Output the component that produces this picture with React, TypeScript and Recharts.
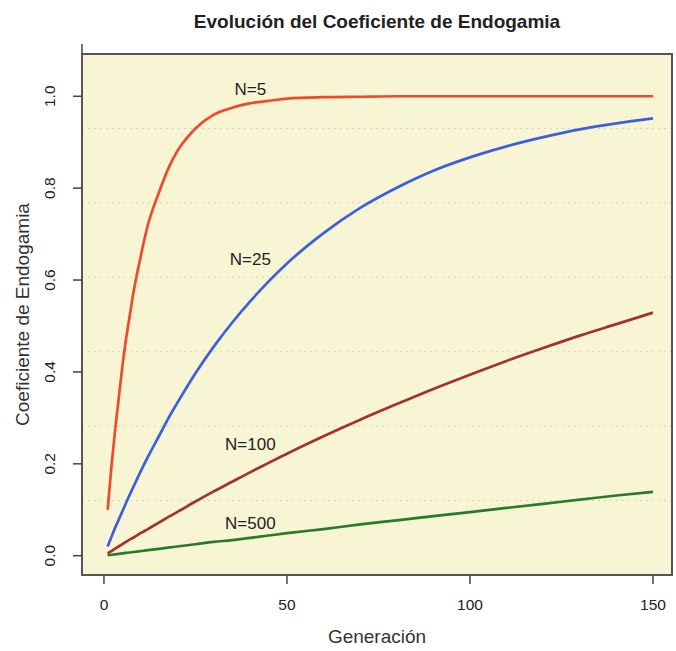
import {
  LineChart,
  Line,
  XAxis,
  YAxis,
  CartesianGrid,
  ReferenceArea,
  ReferenceDot,
  Label,
} from "recharts";

const FONT = "'Liberation Sans', Arial, Helvetica, sans-serif";

const generations = [1, 2, 3, 4, 5, 6, 7, 8, 10, 12, 15, 18, 20, 25, 30, 35, 40, 45, 50, 60, 70, 80, 90, 100, 110, 120, 130, 140, 150];
const n5 = [0.1, 0.19, 0.27, 0.34, 0.41, 0.47, 0.52, 0.57, 0.65, 0.72, 0.79, 0.85, 0.88, 0.93, 0.96, 0.975, 0.985, 0.99, 0.995, 0.998, 0.999, 1, 1, 1, 1, 1, 1, 1, 1];
const n25 = [0.02, 0.04, 0.06, 0.078, 0.096, 0.114, 0.132, 0.149, 0.183, 0.215, 0.26, 0.305, 0.332, 0.397, 0.455, 0.507, 0.554, 0.597, 0.636, 0.702, 0.757, 0.801, 0.838, 0.867, 0.891, 0.911, 0.928, 0.941, 0.952];
const n100 = [0.005, 0.01, 0.015, 0.02, 0.025, 0.03, 0.035, 0.039, 0.049, 0.058, 0.072, 0.086, 0.095, 0.118, 0.14, 0.161, 0.182, 0.202, 0.222, 0.26, 0.296, 0.33, 0.363, 0.394, 0.424, 0.452, 0.479, 0.504, 0.529];
const n500 = [0.001, 0.002, 0.003, 0.004, 0.005, 0.006, 0.007, 0.008, 0.01, 0.012, 0.015, 0.018, 0.02, 0.025, 0.03, 0.034, 0.039, 0.044, 0.049, 0.058, 0.068, 0.077, 0.086, 0.095, 0.104, 0.113, 0.122, 0.131, 0.139];

const xTicks = [0, 50, 100, 150];
const yTicks = [0, 0.2, 0.4, 0.6, 0.8, 1.0];
const gridLevels = [0.12, 0.282, 0.444, 0.606, 0.768, 0.93];
const xDomain: [number, number] = [-6, 155.2];
const yDomain: [number, number] = [-0.042, 1.092];

const series = [
  { key: "n5", name: "N=5", color: "#ef4a2b", labelGen: 40, labelVal: 1.015 },
  { key: "n25", name: "N=25", color: "#3b5fde", labelGen: 40, labelVal: 0.646 },
  { key: "n100", name: "N=100", color: "#a3322d", labelGen: 40, labelVal: 0.243 },
  { key: "n500", name: "N=500", color: "#2b7a2b", labelGen: 40, labelVal: 0.072 },
];

const data = generations.map((g, i) => ({
  gen: g,
  n5: n5[i],
  n25: n25[i],
  n100: n100[i],
  n500: n500[i],
}));

function XTick(props: any) {
  const { x, y, payload } = props;
  return (
    <text x={x} y={y + 24} textAnchor="middle" fontSize={15.5} fill="#222" fontFamily={FONT}>
      {payload.value}
    </text>
  );
}

function YTick(props: any) {
  const { x, y, payload } = props;
  const bx = x - 15.5;
  return (
    <text
      x={bx}
      y={y}
      transform={`rotate(-90, ${bx}, ${y})`}
      textAnchor="middle"
      fontSize={15.5}
      fill="#222"
      fontFamily={FONT}
    >
      {Number(payload.value).toFixed(1)}
    </text>
  );
}

const NoTick = () => <g />;

export default function App() {
  return (
    <div style={{ position: "absolute", left: 0, top: 0, width: 676, height: 651, background: "#fff" }}>
      <LineChart width={676} height={651} data={data} margin={{ top: 0, right: 4, bottom: 0, left: 0 }}>
        <CartesianGrid
          vertical={false}
          horizontalValues={gridLevels}
          fill="#f8f5d4"
          stroke="#d2d0bf"
          strokeDasharray="2 4"
        />
        <XAxis
          dataKey="gen"
          type="number"
          domain={xDomain}
          ticks={xTicks}
          interval={0}
          allowDataOverflow
          height={76}
          tickSize={9}
          axisLine={false}
          tickLine={{ stroke: "#444", strokeWidth: 1.5 }}
          tick={XTick}
        >
          <Label
            content={(p: any) => {
              const vb = p.viewBox;
              return (
                <text x={vb.x + vb.width / 2} y={vb.y + 68} textAnchor="middle" fontSize={19} fill="#333" fontFamily={FONT}>
                  Generación
                </text>
              );
            }}
          />
        </XAxis>
        <XAxis
          xAxisId="top"
          orientation="top"
          type="number"
          domain={xDomain}
          ticks={xTicks}
          interval={0}
          allowDataOverflow
          height={54}
          tickSize={10}
          axisLine={false}
          tickLine={{ stroke: "#444", strokeWidth: 1.5 }}
          tick={NoTick}
        >
          <Label
            content={(p: any) => {
              const vb = p.viewBox;
              return (
                <text
                  x={vb.x + vb.width / 2}
                  y={28}
                  textAnchor="middle"
                  fontSize={19}
                  fontWeight="bold"
                  fill="#222"
                  fontFamily={FONT}
                >
                  Evolución del Coeficiente de Endogamia
                </text>
              );
            }}
          />
        </XAxis>
        <YAxis
          type="number"
          domain={yDomain}
          ticks={yTicks}
          interval={0}
          allowDataOverflow
          width={82}
          tickSize={9}
          axisLine={false}
          tickLine={{ stroke: "#444", strokeWidth: 1.5 }}
          tick={YTick}
        >
          <Label
            content={(p: any) => {
              const vb = p.viewBox;
              const cx = 29;
              const cy = vb.y + vb.height / 2;
              return (
                <text
                  x={cx}
                  y={cy}
                  transform={`rotate(-90, ${cx}, ${cy})`}
                  textAnchor="middle"
                  fontSize={19}
                  fill="#333"
                  fontFamily={FONT}
                >
                  Coeficiente de Endogamia
                </text>
              );
            }}
          />
        </YAxis>
        {series.map((s) => (
          <Line
            key={s.key}
            type="monotone"
            dataKey={s.key}
            name={s.name}
            stroke={s.color}
            strokeWidth={2.7}
            dot={false}
            isAnimationActive={false}
          />
        ))}
        {series.map((s) => (
          <ReferenceDot
            key={"lbl-" + s.key}
            x={s.labelGen}
            y={s.labelVal}
            r={0}
            stroke="none"
            fill="none"
            label={{ value: s.name, position: "center", fontSize: 17, fill: "#222", fontFamily: FONT }}
          />
        ))}
        <ReferenceArea
          x1={xDomain[0]}
          x2={xDomain[1]}
          y1={yDomain[0]}
          y2={yDomain[1]}
          ifOverflow="visible"
          fill="none"
          fillOpacity={0}
          stroke="#555"
          strokeWidth={2}
        />
      </LineChart>
    </div>
  );
}
